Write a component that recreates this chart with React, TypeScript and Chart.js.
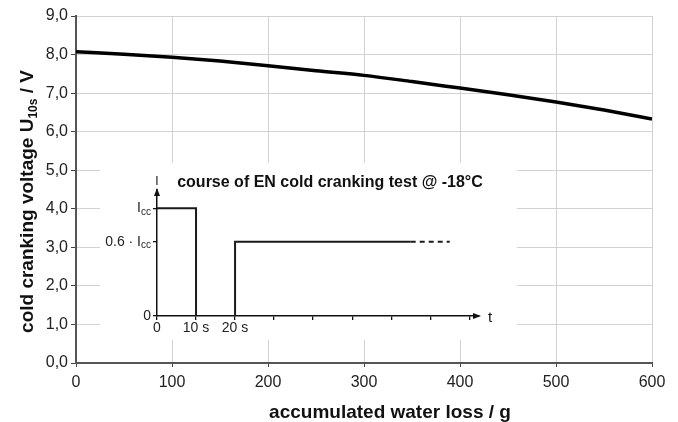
import React, { useEffect, useRef } from "react";
import { Chart, registerables } from "chart.js";

Chart.register(...registerables);

// ---------- main chart data ----------
const waterLoss = [0, 50, 100, 150, 200, 250, 300, 350, 400, 450, 500, 550, 600];
const crankVoltage = [8.07, 8.01, 7.93, 7.83, 7.71, 7.58, 7.46, 7.3, 7.13, 6.96, 6.77, 6.56, 6.33];
const xTickLabels = ["0", "100", "200", "300", "400", "500", "600"];
const yTickLabels = ["0,0", "1,0", "2,0", "3,0", "4,0", "5,0", "6,0", "7,0", "8,0", "9,0"];
const xTitle = "accumulated water loss / g";
const yTitleMain = "cold cranking voltage U";
const yTitleSub = "10s";
const yTitleEnd = " / V";

// ---------- inset data ----------
const insetTitle = "course of EN cold cranking test @ -18°C";
const pulse1Time = [0, 10, 10];
const pulse1Current = [1, 1, 0];
const pulse2Time = [20, 20, 65];
const pulse2Current = [0, 0.69, 0.69];
const contTime = [65, 75];
const contCurrent = [0.69, 0.69];
const insetXTicks = [0, 10, 20, 30, 40, 50, 60, 70, 80];
const insetXLabels = ["0", "10 s", "20 s", "", "", "", "", "", ""];
const insetYTicks = [0, 0.69, 1];
const insetYMain = ["0", "0.6 · I", "I"];
const insetYSub = ["", "cc", "cc"];

const FONT = "'Liberation Sans', Arial, sans-serif";

const mainTitles = {
  id: "mainTitles",
  afterDraw(chart: any) {
    const { ctx, chartArea } = chart;
    ctx.save();
    ctx.fillStyle = "#111";
    // x title
    ctx.font = `bold 19px ${FONT}`;
    ctx.textAlign = "center";
    ctx.textBaseline = "alphabetic";
    ctx.fillText(xTitle, chartArea.left + 314, chartArea.bottom + 55);
    // y title with subscript
    const mainFont = `bold 19px ${FONT}`;
    const subFont = `bold 12px ${FONT}`;
    ctx.font = mainFont;
    const w1 = ctx.measureText(yTitleMain).width;
    const w3 = ctx.measureText(yTitleEnd).width;
    ctx.font = subFont;
    const w2 = ctx.measureText(yTitleSub).width;
    const total = w1 + w2 + w3;
    const cy = (chartArea.top + chartArea.bottom) / 2 + 12;
    ctx.translate(chartArea.left - 43, cy);
    ctx.rotate(-Math.PI / 2);
    ctx.textAlign = "left";
    let x = -total / 2;
    ctx.font = mainFont;
    ctx.fillText(yTitleMain, x, 0);
    x += w1;
    ctx.font = subFont;
    ctx.fillText(yTitleSub, x, 4);
    x += w2;
    ctx.font = mainFont;
    ctx.fillText(yTitleEnd, x, 0);
    ctx.restore();
  },
};

const insetDecor = {
  id: "insetDecor",
  beforeDraw(chart: any) {
    const { ctx, width, height } = chart;
    ctx.save();
    ctx.fillStyle = "#fff";
    ctx.fillRect(0, 0, width, height);
    ctx.restore();
  },
  afterDraw(chart: any) {
    const { ctx, chartArea, scales } = chart;
    const { left, right, top, bottom } = chartArea;
    ctx.save();
    ctx.fillStyle = "#111";
    // arrowheads
    ctx.beginPath();
    ctx.moveTo(left, top - 2);
    ctx.lineTo(left - 3, top + 6);
    ctx.lineTo(left + 3, top + 6);
    ctx.closePath();
    ctx.fill();
    ctx.beginPath();
    ctx.moveTo(right + 2, bottom);
    ctx.lineTo(right - 6, bottom - 3);
    ctx.lineTo(right - 6, bottom + 3);
    ctx.closePath();
    ctx.fill();
    // axis names
    ctx.font = `12px ${FONT}`;
    ctx.textAlign = "center";
    ctx.textBaseline = "middle";
    ctx.fillText("I", left, top - 8);
    ctx.font = `15px ${FONT}`;
    ctx.textAlign = "left";
    ctx.fillText("t", right + 9, bottom + 2);
    // title
    ctx.font = `bold 16px ${FONT}`;
    ctx.textAlign = "center";
    ctx.fillText(insetTitle, (left + right) / 2 + 12, top - 7);
    // y labels with subscripts
    const y = scales.y;
    const mainF = `14px ${FONT}`;
    const subF = `10px ${FONT}`;
    insetYTicks.forEach((v, i) => {
      const py = y.getPixelForValue(v);
      ctx.font = subF;
      const ws = ctx.measureText(insetYSub[i]).width;
      ctx.font = mainF;
      const wm = ctx.measureText(insetYMain[i]).width;
      const rx = left - 6;
      ctx.textAlign = "left";
      ctx.fillStyle = "#222";
      ctx.font = mainF;
      ctx.fillText(insetYMain[i], rx - ws - wm, py);
      ctx.font = subF;
      ctx.fillText(insetYSub[i], rx - ws, py + 4);
    });
    ctx.restore();
  },
};

export default function App() {
  const mainRef = useRef<HTMLCanvasElement>(null);
  const insetRef = useRef<HTMLCanvasElement>(null);

  useEffect(() => {
    const main = new Chart(mainRef.current!, {
      type: "line",
      data: {
        datasets: [
          {
            data: waterLoss.map((x, i) => ({ x, y: crankVoltage[i] })),
            borderColor: "#000",
            borderWidth: 3.5,
            pointRadius: 0,
            cubicInterpolationMode: "monotone",
          },
        ],
      },
      options: {
        animation: false,
        responsive: false,
        devicePixelRatio: 1,
        layout: { padding: { left: 0, top: 16, right: 26, bottom: 0 } },
        plugins: { legend: { display: false }, tooltip: { enabled: false }, title: { display: false } },
        scales: {
          x: {
            type: "linear",
            min: 0,
            max: 600,
            afterFit: (s: any) => {
              s.height = 59;
            },
            ticks: {
              stepSize: 100,
              padding: 6,
              color: "#222",
              font: { family: FONT, size: 16 },
              callback: (v: any) => xTickLabels[Math.round(Number(v) / 100)],
              maxRotation: 0,
            },
            grid: { color: "#d2d2d2", lineWidth: 1, tickColor: "#444", tickLength: 4 },
            border: { color: "#555", width: 2 },
          },
          y: {
            type: "linear",
            min: 0,
            max: 9,
            afterFit: (s: any) => {
              s.width = 76;
            },
            ticks: {
              stepSize: 1,
              padding: 3,
              color: "#222",
              font: { family: FONT, size: 16 },
              callback: (v: any) => yTickLabels[Math.round(Number(v))],
            },
            grid: { color: "#d2d2d2", lineWidth: 1, tickColor: "#444", tickLength: 5 },
            border: { color: "#555", width: 2 },
          },
        },
      },
      plugins: [mainTitles],
    });

    const lineStyle = {
      borderColor: "#1a1a1a",
      borderWidth: 2,
      pointRadius: 0,
      tension: 0,
      showLine: true,
    };
    const inset = new Chart(insetRef.current!, {
      type: "line",
      data: {
        datasets: [
          { ...lineStyle, data: pulse1Time.map((x, i) => ({ x, y: pulse1Current[i] })) },
          { ...lineStyle, data: pulse2Time.map((x, i) => ({ x, y: pulse2Current[i] })) },
          { ...lineStyle, borderDash: [5, 4], data: contTime.map((x, i) => ({ x, y: contCurrent[i] })) },
        ],
      },
      options: {
        animation: false,
        responsive: false,
        devicePixelRatio: 1,
        layout: { padding: { left: 0, top: 27, right: 38, bottom: 0 } },
        plugins: { legend: { display: false }, tooltip: { enabled: false }, title: { display: false } },
        scales: {
          x: {
            type: "linear",
            min: 0,
            max: 82.5,
            afterFit: (s: any) => {
              s.height = 24;
            },
            afterBuildTicks: (s: any) => {
              s.ticks = insetXTicks.map((value) => ({ value }));
            },
            ticks: {
              padding: 0,
              color: "#222",
              font: { family: FONT, size: 14 },
              maxRotation: 0,
              autoSkip: false,
              callback: (_v: any, i: number) => insetXLabels[i],
            },
            grid: { drawOnChartArea: false, tickColor: "#111", tickLength: 4, lineWidth: 1.3 },
            border: { color: "#111", width: 1.5 },
          },
          y: {
            type: "linear",
            min: 0,
            max: 1.17,
            afterFit: (s: any) => {
              s.width = 57;
            },
            afterBuildTicks: (s: any) => {
              s.ticks = insetYTicks.map((value) => ({ value }));
            },
            ticks: { display: false },
            grid: { drawOnChartArea: false, tickColor: "#111", tickLength: 4, lineWidth: 1.3 },
            border: { color: "#111", width: 1.5 },
          },
        },
      },
      plugins: [insetDecor],
    });

    return () => {
      main.destroy();
      inset.destroy();
    };
  }, []);

  return (
    <div style={{ position: "absolute", left: 0, top: 0, width: 678, height: 422, background: "#fff" }}>
      <canvas ref={mainRef} width={678} height={422} style={{ position: "absolute", left: 0, top: 0, width: 678, height: 422 }} />
      <canvas ref={insetRef} width={417} height={177} style={{ position: "absolute", left: 100, top: 163, width: 417, height: 177 }} />
    </div>
  );
}
